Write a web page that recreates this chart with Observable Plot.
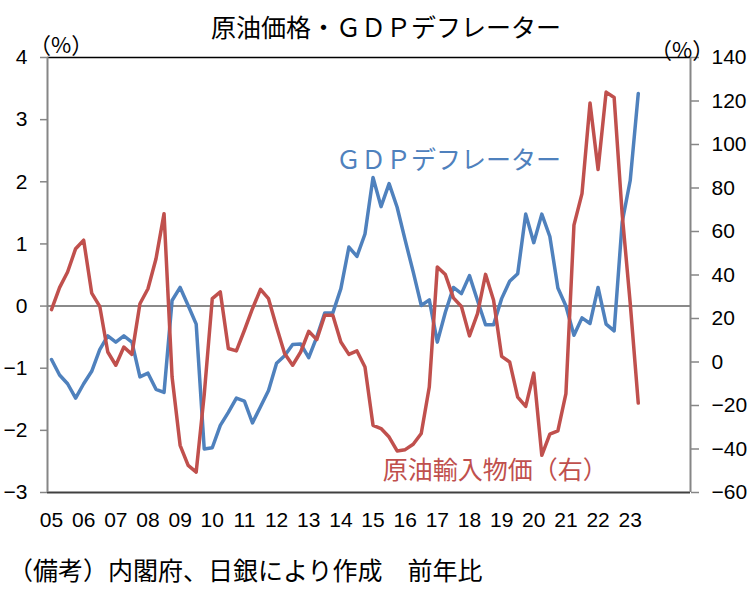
<!DOCTYPE html>
<html>
<head>
<meta charset="utf-8">
<script src="https://cdn.jsdelivr.net/npm/d3@7"></script>
<script src="https://cdn.jsdelivr.net/npm/@observablehq/plot@0.6"></script>
<style>
  body { margin: 0; background: #fff; }
  #wrap { position: relative; width: 756px; height: 602px; overflow: hidden; }
  #wrap svg { position: absolute; left: 0; top: 0; }
  .t { position: absolute; white-space: nowrap; font-family: "Noto Sans CJK JP", sans-serif; color: #000; }
</style>
</head>
<body>
<div id="wrap"></div>
<script>
// Quarterly series, first point = 2005 Q1
const startYear = 2005;

// GDP deflator, year-on-year % (left axis)
const deflator = [
  -0.86, -1.11, -1.25, -1.48, -1.25, -1.05, -0.70, -0.48, -0.58, -0.48,
  -0.58, -1.14, -1.08, -1.34, -1.39,  0.09,  0.30,  0.01, -0.29, -2.30,
  -2.28, -1.92, -1.71, -1.48, -1.53, -1.88, -1.62, -1.36, -0.92, -0.80,
  -0.62, -0.61, -0.83, -0.50, -0.11, -0.11,  0.28,  0.95,  0.80,  1.16,
   2.07,  1.60,  1.97,  1.59,  1.06,  0.55,  0.01,  0.10, -0.58, -0.10,
   0.30,  0.20,  0.49,  0.09, -0.30, -0.30,  0.12,  0.40,  0.52,  1.48,
   1.02,  1.48,  1.12,  0.29,  0.00, -0.47, -0.19, -0.28,  0.30, -0.29,
  -0.40,  1.35,  2.02,  3.42
];

// Crude oil import price, year-on-year % (right axis)
const crudeImport = [
   24.1,  34.2,  41.4,  52.1,  56.0,  31.7,  25.6,   4.6,  -1.5,   6.9,
    3.5,  26.8,  33.7,  47.5,  68.2,  -6.9, -38.3, -47.5, -50.6, -15.0,
   29.1,  32.2,   6.2,   5.1,  14.6,  24.5,  33.4,  29.1,  16.1,   3.9,
   -1.5,   4.6,  14.1,  10.3,  21.5,  21.5,   9.2,   3.5,   5.1,  -2.3,
  -29.1, -30.6, -34.5, -40.9, -40.3, -37.8, -32.9, -11.5,  43.7,  40.2,
   29.5,  25.5,  12.0,  22.2,  40.3,  28.4,   2.6,   0.0, -16.1, -20.4,
   -5.1, -42.9, -33.2, -31.7, -14.5,  62.9,  77.4, 119.1,  88.5, 124.1,
  121.6,  68.0,  27.0, -18.9
];

// Axis ticks
const yearTicks = [2005, 2006, 2007, 2008, 2009, 2010, 2011, 2012, 2013, 2014,
                   2015, 2016, 2017, 2018, 2019, 2020, 2021, 2022, 2023];
const leftTicks = [-3, -2, -1, 0, 1, 2, 3, 4];
const rightTicks = [-60, -40, -20, 0, 20, 40, 60, 80, 100, 120, 140];

// Texts
const titleText = "原油価格・ＧＤＰデフレーター";
const gdpLabel = "ＧＤＰデフレーター";
const oilLabel = "原油輸入物価（右）";
const unitText = "（%）";
const noteText = "（備考）内閣府、日銀により作成　前年比";

const blue = "#4F81BD";
const red = "#C0504D";
const axisGray = "#868686";

// Scale domains; the right axis is mapped linearly onto the left one
const xDomain = [2004.875, 2024.875];
const yDomain = [-3, 4];
const rDomain = [-60, 140];
const toLeft = r => yDomain[0] + (r - rDomain[0]) * (yDomain[1] - yDomain[0]) / (rDomain[1] - rDomain[0]);
const fromLeft = v => rDomain[0] + (v - yDomain[0]) * (rDomain[1] - rDomain[0]) / (yDomain[1] - yDomain[0]);
const fmt = d3.format("d");

const rows = deflator.map((v, i) => ({
  t: startYear + i / 4,
  gdp: v,
  oil: toLeft(crudeImport[i])
}));

const jp = "Noto Sans CJK JP, sans-serif";

const chart = Plot.plot({
  width: 756,
  height: 602,
  marginTop: 57,
  marginBottom: 110,
  marginLeft: 47,
  marginRight: 66,
  x: { domain: xDomain },
  y: { domain: yDomain },
  style: { fontFamily: "Liberation Sans, Arial, sans-serif", fontSize: "21px", color: "#000", background: "transparent" },
  marks: [
    Plot.ruleY([0], { stroke: "#8a8a8a", strokeWidth: 2 }),
    Plot.ruleY([yDomain[1]], { stroke: "#000", strokeWidth: 1.5 }),
    Plot.ruleY([yDomain[0]], { stroke: "#404040", strokeWidth: 2 }),
    Plot.ruleX([xDomain[0]], { stroke: axisGray, strokeWidth: 2 }),
    Plot.ruleX([xDomain[1]], { stroke: axisGray, strokeWidth: 2 }),
    Plot.axisY(leftTicks, {
      anchor: "left", tickSize: 7, tickPadding: 13, stroke: axisGray, strokeWidth: 1.5, label: null,
      tickFormat: v => fmt(v)
    }),
    Plot.axisY(rightTicks.map(toLeft), {
      anchor: "right", tickSize: 8, tickPadding: 13, stroke: axisGray, strokeWidth: 1.5, label: null,
      tickFormat: v => fmt(Math.round(fromLeft(v)))
    }),
    Plot.axisX(yearTicks, { anchor: "bottom", tickSize: 0, tickPadding: 20, label: null, tickFormat: y => String(y).slice(2) }),
    Plot.lineY(rows, { x: "t", y: "gdp", stroke: blue, strokeWidth: 3.5, strokeLinejoin: "round" }),
    Plot.lineY(rows, { x: "t", y: "oil", stroke: red, strokeWidth: 3.5, strokeLinejoin: "round" }),
    Plot.text([gdpLabel], { x: 2013.85, y: 2.33, text: d => d, fill: blue, fontSize: 25, fontFamily: jp, textAnchor: "start" }),
    Plot.text([oilLabel], { x: 2015.3, y: -2.65, text: d => d, fill: red, fontSize: 25, fontFamily: jp, textAnchor: "start" })
  ]
});

const wrap = document.getElementById("wrap");
wrap.appendChild(chart);

function addText(text, left, top, size) {
  const el = document.createElement("div");
  el.className = "t";
  el.textContent = text;
  el.style.left = left + "px";
  el.style.top = top + "px";
  el.style.fontSize = size + "px";
  el.style.lineHeight = size + "px";
  wrap.appendChild(el);
}

addText(titleText, 211, 14, 25);
addText(unitText, 29, 32, 22);
addText(unitText, 650, 37, 22);
addText(noteText, 8, 557, 25);
</script>
</body>
</html>
